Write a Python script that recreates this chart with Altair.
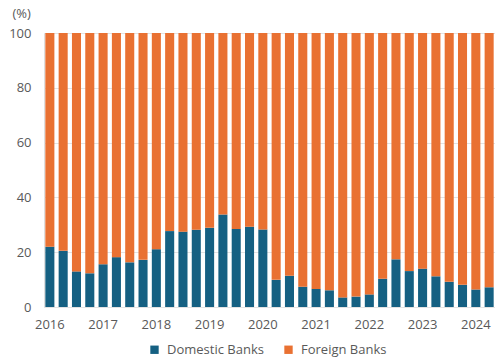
import altair as alt
import pandas as pd

# Quarterly periods, 2016 Q1 to 2024 Q2
years = [2016, 2017, 2018, 2019, 2020, 2021, 2022, 2023, 2024]
quarters = ["Q1", "Q2", "Q3", "Q4"]
periods = [f"{y}{q}" for y in years for q in quarters][:34]

# Share of domestic banks (%); foreign banks make up the rest of 100
domestic = [22.0, 20.5, 13.0, 12.3, 15.6, 18.2, 16.3, 17.2,
            21.1, 27.7, 27.5, 28.2, 28.9, 33.8, 28.5, 29.3,
            28.3, 9.9, 11.4, 7.4, 6.6, 6.1, 3.5, 3.8,
            4.6, 10.3, 17.4, 13.1, 14.0, 11.2, 9.2, 8.1,
            6.4, 7.2]
foreign = [round(100 - d, 1) for d in domestic]

series = ["Domestic Banks", "Foreign Banks"]
colors = ["#156082", "#E97132"]

rows = []
for p, d, f in zip(periods, domestic, foreign):
    rows.append({"period": p, "group": series[0], "share": d, "rank": 0})
    rows.append({"period": p, "group": series[1], "share": f, "rank": 1})
df = pd.DataFrame(rows)

FONT = "Open Sans"
GRAY = "#595959"
SIZE = 13

chart = (
    alt.Chart(df)
    .mark_bar()
    .encode(
        x=alt.X(
            "period:O",
            sort=periods,
            scale=alt.Scale(paddingInner=0.32, paddingOuter=0.1),
            axis=alt.Axis(
                title=None,
                labelAngle=0,
                labelExpr="substring(datum.value, 4) == 'Q1' ? substring(datum.value, 0, 4) : ''",
                ticks=False,
                tickSize=0,
                domain=False,
                labelPadding=11,
                labelFontSize=SIZE,
                labelColor=GRAY,
                labelFont=FONT,
            ),
        ),
        y=alt.Y(
            "share:Q",
            stack="zero",
            scale=alt.Scale(domain=[0, 100]),
            axis=alt.Axis(
                title="(%)",
                titleAngle=0,
                titleAlign="left",
                titleBaseline="middle",
                titleX=-32,
                titleY=-20,
                titleFontWeight="normal",
                titleFontSize=SIZE,
                titleColor=GRAY,
                titleFont=FONT,
                values=[0, 20, 40, 60, 80, 100],
                ticks=False,
                tickSize=0,
                domain=False,
                labelPadding=13,
                labelFontSize=SIZE,
                labelColor=GRAY,
                labelFont=FONT,
                gridColor="#e3e3e3",
                gridWidth=1,
            ),
        ),
        color=alt.Color(
            "group:N",
            scale=alt.Scale(domain=series, range=colors),
            legend=alt.Legend(
                title=None,
                orient="none",
                direction="horizontal",
                legendX=104,
                legendY=310,
                symbolType="square",
                symbolSize=70,
                symbolStrokeWidth=0,
                labelFontSize=SIZE,
                labelColor=GRAY,
                labelFont=FONT,
                labelOffset=6,
                columnPadding=18,
            ),
        ),
        order=alt.Order("rank:Q"),
    )
    .properties(
        width=451,
        height=274,
        autosize=alt.AutoSizeParams(type="none"),
        padding={"left": 44, "top": 33, "right": 0, "bottom": 51},
    )
    .configure_view(stroke=None)
    .configure(background="white")
)

chart.save("out.html", embed_options={"renderer": "svg", "actions": False})
